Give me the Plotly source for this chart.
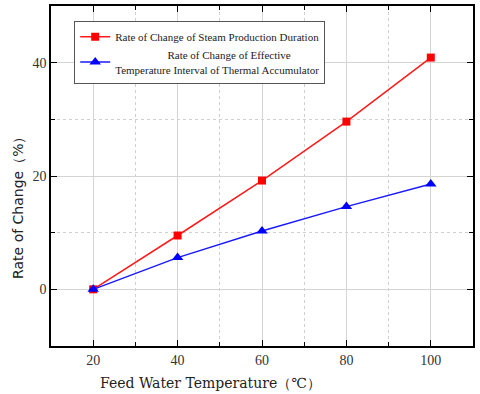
import plotly.graph_objects as go

temps = [20, 40, 60, 80, 100]
steam_rate = [0, 9.5, 19.2, 29.6, 40.9]
interval_rate = [0, 5.6, 10.3, 14.6, 18.6]

name_steam = "Rate of Change of Steam Production Duration"
name_interval = ("\u00a0" * 19 + "Rate of Change of Effective<br>"
                 "Temperature Interval of Thermal Accumulator")

serif = "Liberation Serif, DejaVu Serif, serif"

fig = go.Figure()
fig.add_trace(go.Scatter(
    x=temps, y=steam_rate, mode="lines+markers", name=name_steam,
    line=dict(color="#ff1a1a", width=1.5),
    marker=dict(symbol="square", size=8, color="#ff0000"),
))
fig.add_trace(go.Scatter(
    x=temps, y=interval_rate, mode="lines+markers", name=name_interval,
    line=dict(color="#1a1aff", width=1.5),
    marker=dict(symbol="triangle-up", size=10, color="#0000ff"),
))

axis_common = dict(
    showline=True, linecolor="black", linewidth=1.5, mirror="allticks",
    ticks="inside", ticklen=6, tickwidth=1.2, tickcolor="black",
    showgrid=True, gridcolor="#d4d4d4", gridwidth=1,
    zeroline=False,
    tickfont=dict(family=serif, size=14, color="#333333"),
)

fig.update_xaxes(
    range=[10, 110], tickvals=[20, 40, 60, 80, 100],
    minor=dict(tickvals=[30, 50, 70, 90], ticks="inside", ticklen=4,
               tickcolor="black", showgrid=True, griddash="dot",
               gridcolor="#d0d0d0"),
    **axis_common,
)
fig.update_yaxes(
    range=[-10, 50], tickvals=[0, 20, 40],
    minor=dict(tickvals=[10, 30], ticks="inside", ticklen=4,
               tickcolor="black", showgrid=True, griddash="dot",
               gridcolor="#d0d0d0"),
    **axis_common,
)

fig.add_annotation(
    text="Feed Water Temperature（℃）", xref="paper", yref="paper",
    x=0.377, y=0, yshift=-37, xanchor="center", yanchor="middle",
    showarrow=False, font=dict(family="DejaVu Serif, serif", size=14, color="#222222"),
)
fig.add_annotation(
    text="Rate of Change（%）", xref="paper", yref="paper",
    x=0, y=0.415, xshift=-33, xanchor="center", yanchor="middle",
    textangle=-90, showarrow=False,
    font=dict(family="DejaVu Sans, sans-serif", size=14, color="#222222"),
)

fig.update_layout(
    width=480, height=394,
    margin=dict(l=51, r=7, t=6, b=48, autoexpand=False),
    plot_bgcolor="white", paper_bgcolor="white",
    showlegend=True,
    legend=dict(
        x=0.055, y=0.955, xanchor="left", yanchor="top",
        bgcolor="white", bordercolor="#555555", borderwidth=1,
        font=dict(family=serif, size=11, color="#222222"),
        tracegroupgap=0, itemwidth=30,
    ),
)

fig.write_html("out.html", config={"displayModeBar": False},
               post_script="document.body.style.margin='0px';")
